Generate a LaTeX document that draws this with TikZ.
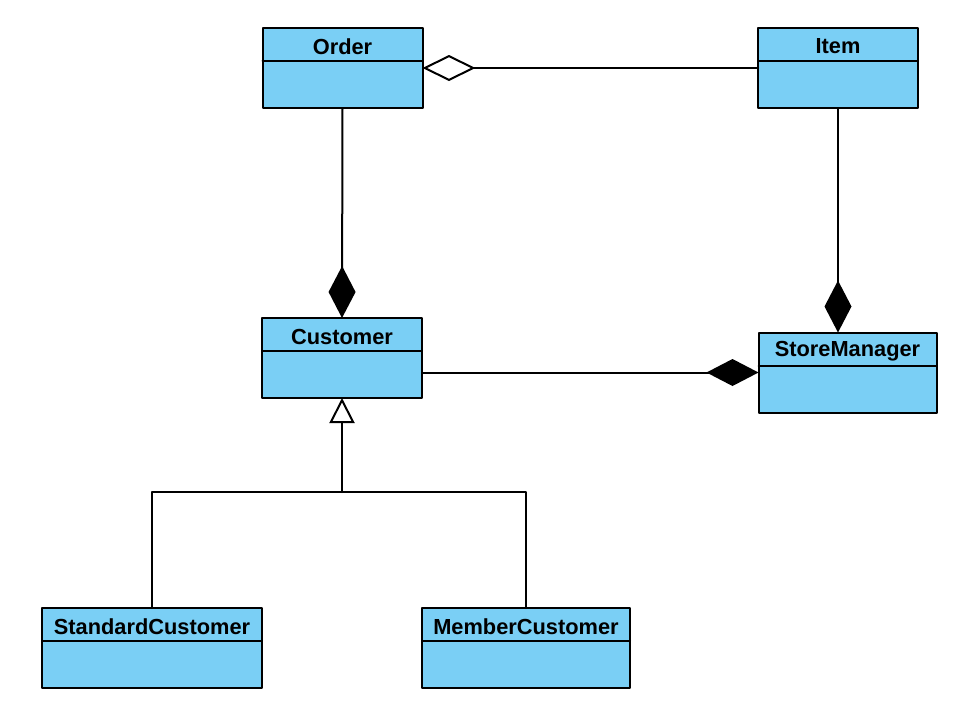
\documentclass[tikz,border=0pt]{standalone}
\usepackage{fontspec}
\setmainfont{Liberation Sans}
\usetikzlibrary{arrows.meta}
\definecolor{classblue}{RGB}{122,207,245}

\newcommand{\umlclass}[4]{%
  \node[classbox,minimum width=#3] (#1) at (#2) {};
  \draw[line width=1pt] ([yshift=-16.5pt]#1.north west) -- ([yshift=-16.5pt]#1.north east);
  \node[classname] (#1-title) at ([yshift=-9.3pt]#1.north) {#4};
}

\begin{document}
\begin{tikzpicture}[x=0.5pt,y=-0.5pt,line cap=round,line join=round,
    classbox/.style={draw,line width=1pt,fill=classblue,minimum height=40pt,inner sep=0pt,outer sep=0pt},
    classname/.style={inner sep=0pt,font=\fontsize{10.9}{13}\selectfont\bfseries},
    link/.style={line width=1pt},
    composite/.style={link,-{Diamond[length=26pt,width=13.5pt]}},
    shared/.style={link,-{Diamond[open,fill=white,length=26.5pt,width=13pt]}},
    inherit/.style={link,-{Triangle[open,fill=white,length=12.5pt,width=12.5pt]}}]
  \useasboundingbox (0,0) rectangle (965,718);
  \umlclass{Order}{342.5,68}{80pt}{Order}
  \umlclass{Item}{838,68}{80pt}{Item}
  \umlclass{Customer}{342,358}{80pt}{Customer}
  \umlclass{StoreManager}{847.5,372.5}{89pt}{StoreManager}
  \umlclass{StandardCustomer}{152,648}{110pt}{StandardCustomer}
  \umlclass{MemberCustomer}{526,648}{104pt}{MemberCustomer}
  \coordinate (joint) at (342,492);
  \draw[shared] (Item.west) -- (Order.east);
  \draw[composite] (Order.south) -- (Customer.north);
  \draw[composite] (Item.south) -- (Item.south |- StoreManager.north);
  \draw[composite] (StoreManager.west -| Customer.east) -- (StoreManager.west);
  \draw[link] (StandardCustomer.north) |- (joint) -| (MemberCustomer.north);
  \draw[inherit] (joint) -- (Customer.south);
\end{tikzpicture}
\end{document}
